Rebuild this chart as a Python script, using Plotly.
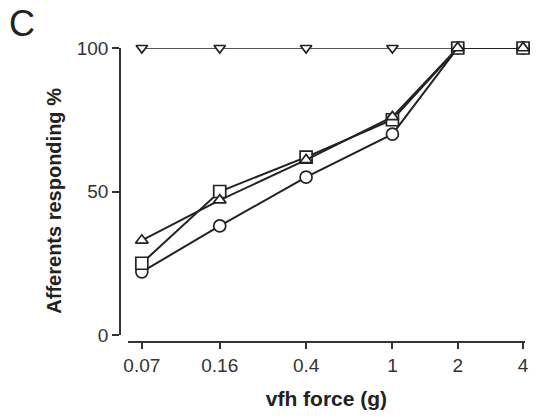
import plotly.graph_objects as go

forces = [0.07, 0.16, 0.4, 1, 2, 4]
tick_labels = ["0.07", "0.16", "0.4", "1", "2", "4"]

circle_vals = [22, 38, 55, 70, 100, 100]
square_vals = [25, 50, 62, 75, 100, 100]
tri_up_vals = [33, 47, 61, 76, 100, 100]
tri_down_vals = [100, 100, 100, 100, 100, 100]

series = [
    ("tri-down", tri_down_vals, "triangle-down", "#555555", 10),
    ("circle", circle_vals, "circle", "#222222", 12),
    ("square", square_vals, "square", "#222222", 12),
    ("tri-up", tri_up_vals, "triangle-up", "#222222", 11),
]

fig = go.Figure()
for name, vals, sym, col, sz in series:
    fig.add_trace(go.Scatter(
        x=forces, y=vals, mode="lines+markers", name=name,
        line=dict(color=col, width=2),
        marker=dict(symbol=sym, size=sz, color="white",
                    line=dict(color="#222222", width=1.7)),
        cliponaxis=False,
    ))

fig.update_layout(
    width=537, height=418,
    margin=dict(l=120, r=8, t=48, b=76),
    paper_bgcolor="white", plot_bgcolor="white",
    showlegend=False,
    font=dict(family="Liberation Sans, Arial, sans-serif", color="#222222"),
    xaxis=dict(
        type="log", domain=[8/409, 1], range=[-1.219, 0.611],
        anchor="free", position=0,
        tickvals=forces, ticktext=tick_labels,
        ticks="outside", ticklen=6, tickwidth=1.6, tickcolor="#333333",
        showline=True, linecolor="#333333", linewidth=1.6,
        showgrid=False, zeroline=False,
        tickfont=dict(size=19, color="#333333"),
        title=dict(text="<b>vfh force (g)</b>", font=dict(size=21), standoff=16),
    ),
    yaxis=dict(
        domain=[7/294, 1], range=[0, 100],
        anchor="free", position=0,
        tickvals=[0, 50, 100], ticktext=["0", "50", "100"],
        ticks="outside", ticklen=7, tickwidth=1.6, tickcolor="#333333",
        showline=True, linecolor="#333333", linewidth=1.6,
        showgrid=False, zeroline=False,
        tickfont=dict(size=19, color="#333333"),
    ),
    annotations=[
        dict(
            text="C", xref="paper", yref="paper",
            x=(21 - 120) / 409, y=(342 - 24) / 294,
            xanchor="center", yanchor="middle",
            showarrow=False, font=dict(size=36, color="#222222"),
        ),
        dict(
            text="<b>Afferents responding %</b>", xref="paper", yref="paper",
            x=(53 - 120) / 409, y=(342 - 201) / 294,
            xanchor="center", yanchor="middle", textangle=-90,
            showarrow=False, font=dict(size=20, color="#222222"),
        ),
    ],
)

fig.write_html("out.html")
